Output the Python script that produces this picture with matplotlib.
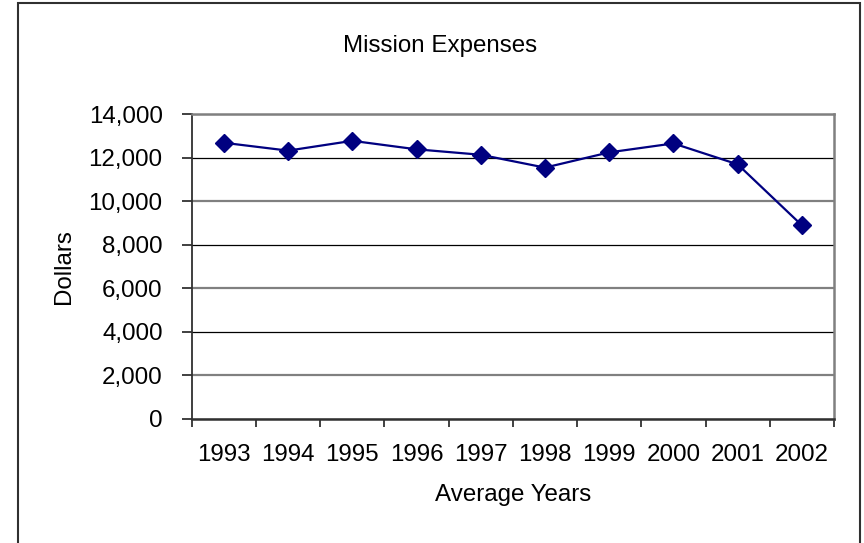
import matplotlib.pyplot as plt
from matplotlib.patches import Rectangle
from matplotlib.ticker import FuncFormatter
import numpy as np

plt.rcParams['font.family'] = ['Liberation Sans', 'DejaVu Sans']

# data
years = ['1993', '1994', '1995', '1996', '1997', '1998', '1999', '2000', '2001', '2002']
expenses = [12680, 12320, 12770, 12380, 12130, 11540, 12240, 12650, 11690, 8890]

fig = plt.figure(figsize=(8.64, 5.43), dpi=100)
ax = fig.add_axes([0.2219, 0.2284, 0.7434, 0.5616])

# outer chart border
fig.patches.append(Rectangle((18 / 864, -0.05), 842 / 864, 1.05 - 3 / 543,
                             transform=fig.transFigure, fill=False,
                             edgecolor='#303030', linewidth=1.5))

x = np.arange(len(years))
ax.plot(x, expenses, color='#000080', linewidth=1.6, marker='D',
        markersize=9, markerfacecolor='#000080', markeredgecolor='#000080', zorder=3)

ax.set_xlim(-0.5, len(years) - 0.5)
ax.set_ylim(0, 14000)
ax.set_yticks(np.arange(0, 14001, 2000))
ax.yaxis.set_major_formatter(FuncFormatter(lambda v, p: f'{int(v):,}'))
ax.set_xticks(x)
ax.set_xticklabels(years)
ax.set_xticks(np.arange(-0.5, len(years), 1.0), minor=True)

ax.tick_params(axis='x', which='major', length=0, pad=18, labelsize=17.4)
ax.tick_params(axis='x', which='minor', length=6, width=1.2, color='#202020', direction='out')
ax.tick_params(axis='y', which='major', length=7, width=1.2, color='#202020',
               direction='out', pad=14, labelsize=17.4)

# horizontal gridlines
ax.yaxis.grid(True, zorder=1)
for i, gl in enumerate(ax.get_ygridlines()):
    if i % 2 == 0:
        gl.set_color('#000000')
        gl.set_linewidth(0.9)
    else:
        gl.set_color('#808080')
        gl.set_linewidth(1.6)
ax.set_axisbelow(True)

ax.spines['top'].set_color('#808080')
ax.spines['top'].set_linewidth(1.8)
ax.spines['right'].set_color('#808080')
ax.spines['right'].set_linewidth(1.8)
ax.spines['left'].set_color('#303030')
ax.spines['left'].set_linewidth(1.3)
ax.spines['bottom'].set_color('#303030')
ax.spines['bottom'].set_linewidth(1.8)

ax.set_xlabel('Average Years', fontsize=17.4, labelpad=13)
ax.set_ylabel('Dollars', fontsize=17.4, labelpad=10)
fig.text(440 / 864, 1 - 52 / 543, 'Mission Expenses', ha='center', va='baseline', fontsize=17.4)

fig.savefig('out.png', dpi=100)
